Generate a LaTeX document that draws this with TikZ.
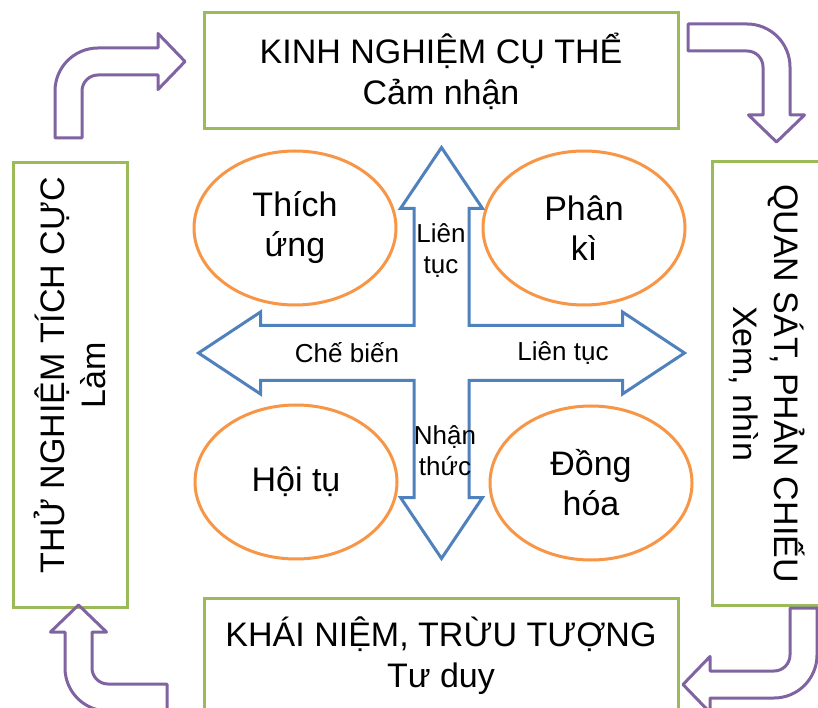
\documentclass[tikz,border=0pt]{standalone}
\usepackage{fontspec}
\setmainfont{Liberation Sans}
\usepackage{tikz}
\usetikzlibrary{shapes.geometric}
\definecolor{cBox}  {HTML}{9bbb59}
\definecolor{cBend} {HTML}{8064a2}
\definecolor{cOval} {HTML}{f79646}
\definecolor{cCross}{HTML}{4f81bd}
\tikzset{
  sbox/.style ={draw=cBox,line width=1.5pt,align=center,inner sep=0pt,
                font=\fontsize{17}{20.5}\selectfont},
  soval/.style={ellipse,draw=cOval,line width=1.5pt,align=center,inner sep=0pt,
                minimum width=101pt,minimum height=77pt,
                font=\fontsize{17}{20}\selectfont},
  slab/.style ={align=center,inner sep=0pt,font=\fontsize{13}{15.5}\selectfont},
  sbend/.style={draw=cBend,line width=1.5pt,line join=round},
  scross/.style={draw=cCross,line width=1.5pt},
  pics/bent/.style 2 args={code={
    \draw[sbend] (0,-#1)--(0,-43) arc (180:90:43)--(#2,0)--(#2,14.5)--++(27,-28)
      --(#2,-41.5)--(#2,-27)--(43,-27) arc (90:180:16)--(27,-#1)--cycle;
  }},
}
\begin{document}
\begin{tikzpicture}[x=0.5pt,y=0.5pt]
        \path[use as bounding box,fill=white] (0,0) rectangle (818,707);
        % the four stages
        \node[sbox,minimum width=237pt,minimum height=58pt] (exp) at (441,636)
          {KINH NGHIỆM CỤ THỂ\\Cảm nhận};
        \node[sbox,minimum width=237pt,minimum height=58pt] (abs) at (441,51)
          {KHÁI NIỆM, TRỪU TƯỢNG\\Tư duy};
        \node[sbox,rotate=90,minimum width=222pt,minimum height=57pt] (act) at (70,322) {};
        \node[sbox,draw=none,rotate=90] (acttext) at ([yshift=5pt]act.center)
          {THỬ NGHIỆM TÍCH CỰC\\Làm};
        \node[sbox,rotate=-90,minimum width=221.5pt,minimum height=55pt] (obs) at (767,323.5)
          {QUAN SÁT, PHẢN CHIẾU\\Xem, nhìn};
        % learning styles
        \node[soval] (acm) at (295,479) {Thích\\ứng};
        \node[soval] (dvg) at (584,479) {Phân\\kì};
        \node[soval] (cvg) at (296,225) {Hội tụ};
        \node[soval] (asm) at (591,224) {Đồng\\hóa};
        % cross
        \draw[scross,shift={(441.5,354)}] (27.5,27.5)--(27.5,144.5)--(41,144.5)--(0,205.5)
          --(-41,144.5)--(-27.5,144.5)--(-27.5,27.5)--(-181,27.5)--(-181,41)--(-243,0)
          --(-181,-41)--(-181,-27.5)--(-27.5,-27.5)--(-27.5,-144.5)--(-41,-144.5)--(0,-205.5)
          --(41,-144.5)--(27.5,-144.5)--(27.5,-27.5)--(181,-27.5)--(181,-41)--(243,0)
          --(181,41)--(181,27.5)--cycle;
        \node[slab] (lt1) at (441,456) {Liên\\tục};
        \node[slab] (cb)  at (347,354) {Chế biến};
        \node[slab] (lt2) at (563,354) {Liên tục};
        \node[slab] (nt)  at (445,256) {Nhận\\thức};
        % cycle arrows
        \pic at (55,659) {bent={90}{103}};
        \pic[rotate=-90] at (790,683) {bent={102}{91}};
        \pic[rotate=180] at (817,9) {bent={90}{107}};
        \pic[rotate=90] at (65,-4) {bent={102}{79}};
      \end{tikzpicture}
\end{document}
